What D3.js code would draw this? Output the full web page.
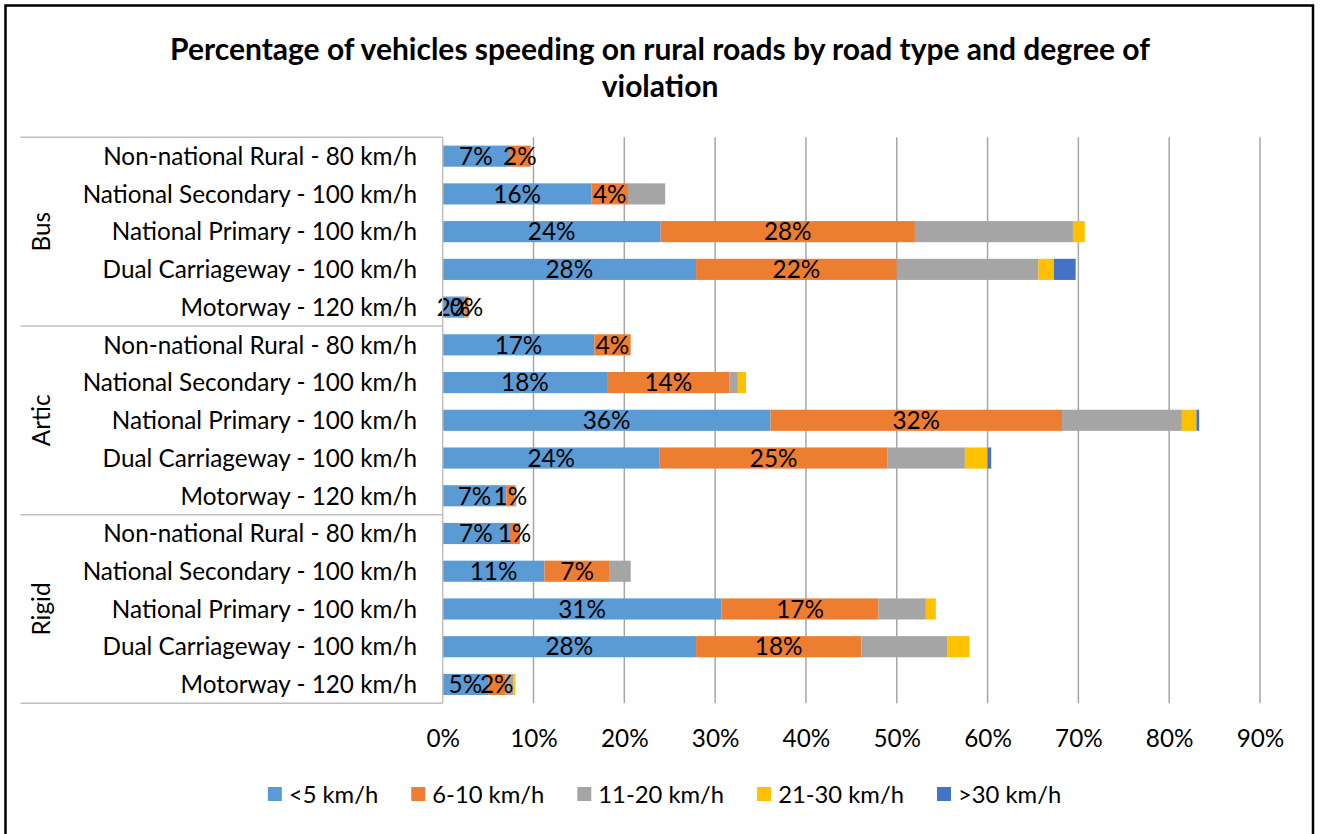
<!DOCTYPE html>
<html>
<head>
<meta charset="utf-8">
<script src="https://cdn.jsdelivr.net/npm/d3@7"></script>
<style>
  body { margin: 0; background: #fff; }
  svg { display: block; font-family: Lato, "Open Sans", sans-serif; }
</style>
</head>
<body>
<svg id="chart"></svg>
<script>
// chart data (rows go Bus, Artic, Rigid; top to bottom)
const groups = ["Bus", "Artic", "Rigid"];
const roadTypes = [
    "Non-national Rural - 80 km/h",
    "National Secondary - 100 km/h",
    "National Primary - 100 km/h",
    "Dual Carriageway - 100 km/h",
    "Motorway - 120 km/h"
];
const seriesNames = ["<5 km/h", "6-10 km/h", "11-20 km/h", "21-30 km/h", ">30 km/h"];
const seriesColors = ["#5B9BD5", "#ED7D31", "#A5A5A5", "#FFC000", "#4472C4"];

// one value per row, 15 rows
const under5   = [7.3, 16.4, 24.0, 27.9, 2.4,   16.7, 18.1, 36.1, 23.9, 7.0,   7.3, 11.2, 30.7, 27.9, 5.0];
const kmh6to10 = [2.4, 4.0, 28.0, 22.1, 0.45,   4.0, 13.5, 32.1, 25.1, 0.9,   1.2, 7.2, 17.3, 18.2, 1.9];
const kmh11to20 = [0, 4.1, 17.4, 15.6, 0,       0, 0.9, 13.2, 8.5, 0.2,       0, 2.3, 5.2, 9.5, 0.9];
const kmh21to30 = [0, 0, 1.3, 1.7, 0,           0, 0.9, 1.6, 2.5, 0,          0, 0, 1.1, 2.4, 0.2];
const over30   = [0, 0, 0, 2.4, 0,              0, 0, 0.3, 0.4, 0,            0, 0, 0, 0, 0];

const xTicks = [0, 10, 20, 30, 40, 50, 60, 70, 80, 90];

const width = 1325;
const height = 834;
const plotTop = 137.3, plotBottom = 703.3;
const plotLeft = 442.7, plotRight = 1260;
const labelSize = '24.3px';

const svg = d3.select('#chart')
    .attr('width', width)
    .attr('height', height);

// frame
svg.append('rect')
    .attr('x', 5.5).attr('y', 5.5)
    .attr('width', 1307.5).attr('height', 900)
    .attr('fill', 'none')
    .attr('stroke', '#000')
    .attr('stroke-width', 2.5);

// title
const title = svg.append('text')
    .attr('text-anchor', 'middle')
    .style('font-weight', 'bold')
    .style('font-size', '30px')
    .attr('fill', '#000');
title.append('tspan').attr('x', 660).attr('y', 60)
    .text('Percentage of vehicles speeding on rural roads by road type and degree of');
title.append('tspan').attr('x', 660).attr('y', 97)
    .text('violation');

// rows
const rows = [];
groups.forEach((g, gi) => {
    roadTypes.forEach((r, ri) => {
        const i = gi * roadTypes.length + ri;
        rows.push({
            id: g + '|' + r, group: g, road: r,
            [seriesNames[0]]: under5[i],
            [seriesNames[1]]: kmh6to10[i],
            [seriesNames[2]]: kmh11to20[i],
            [seriesNames[3]]: kmh21to30[i],
            [seriesNames[4]]: over30[i]
        });
    });
});

const xScale = d3.scaleLinear()
    .domain([0, 90])
    .range([plotLeft, plotRight]);

const yScale = d3.scaleBand()
    .domain(rows.map(d => d.id))
    .range([plotTop, plotBottom])
    .paddingInner(0.44)
    .paddingOuter(0.22);

const color = d3.scaleOrdinal().domain(seriesNames).range(seriesColors);

// gridlines
svg.append('g')
    .selectAll('line')
    .data(xTicks.slice(1))
    .enter()
    .append('line')
    .attr('x1', d => xScale(d)).attr('x2', d => xScale(d))
    .attr('y1', plotTop).attr('y2', plotBottom)
    .attr('stroke', '#a6a6a6')
    .attr('stroke-width', 1.5);

// x axis labels (no axis line in the reference)
const xAxis = svg.append('g')
    .attr('transform', `translate(0,${plotBottom})`)
    .call(d3.axisBottom(xScale).tickValues(xTicks).tickFormat(d => d + '%').tickSize(0).tickPadding(26));
xAxis.select('.domain').remove();
xAxis.selectAll('text')
    .style('font-family', 'Lato, "Open Sans", sans-serif')
    .style('font-size', labelSize)
    .attr('fill', '#000');

// stacked bars
const stack = d3.stack().keys(seriesNames);
const layers = stack(rows);

const layerG = svg.append('g')
    .selectAll('g')
    .data(layers)
    .enter()
    .append('g')
    .attr('fill', d => color(d.key));

layerG.selectAll('rect')
    .data(d => d.filter(s => s[1] - s[0] > 0))
    .enter()
    .append('rect')
    .attr('x', d => xScale(d[0]))
    .attr('y', d => yScale(d.data.id))
    .attr('width', d => xScale(d[1]) - xScale(d[0]))
    .attr('height', yScale.bandwidth());

// data labels, only on the first two series
svg.append('g')
    .selectAll('g')
    .data(layers.slice(0, 2))
    .enter()
    .append('g')
    .selectAll('text')
    .data(d => d.filter(s => s[1] - s[0] > 0))
    .enter()
    .append('text')
    .attr('x', d => (xScale(d[0]) + xScale(d[1])) / 2)
    .attr('y', d => yScale(d.data.id) + yScale.bandwidth() / 2)
    .attr('dy', '0.36em')
    .attr('text-anchor', 'middle')
    .style('font-size', labelSize)
    .attr('fill', '#000')
    .text(d => Math.round(d[1] - d[0]) + '%');

// category axis: vertical line, group separators, labels
svg.append('line')
    .attr('x1', plotLeft).attr('x2', plotLeft)
    .attr('y1', plotTop).attr('y2', plotBottom)
    .attr('stroke', '#bfbfbf')
    .attr('stroke-width', 1.5);

const half = (yScale.step() - yScale.bandwidth()) / 2;
const groupEdges = [0, 5, 10].map(i => yScale(rows[i].id) - half).concat([plotBottom]);
svg.append('g')
    .selectAll('line')
    .data(groupEdges)
    .enter()
    .append('line')
    .attr('x1', 20.5).attr('x2', plotLeft)
    .attr('y1', d => d).attr('y2', d => d)
    .attr('stroke', '#bfbfbf')
    .attr('stroke-width', 1.5);

svg.append('g')
    .selectAll('text')
    .data(rows)
    .enter()
    .append('text')
    .attr('x', 417)
    .attr('y', d => yScale(d.id) + yScale.bandwidth() / 2)
    .attr('dy', '0.36em')
    .attr('text-anchor', 'end')
    .style('font-size', labelSize)
    .attr('fill', '#000')
    .text(d => d.road);

svg.append('g')
    .selectAll('text')
    .data(groups)
    .enter()
    .append('text')
    .attr('transform', (g, gi) => {
        const y0 = yScale(rows[gi * 5].id);
        const y1 = yScale(rows[gi * 5 + 4].id) + yScale.bandwidth();
        return `translate(41,${(y0 + y1) / 2}) rotate(-90)`;
    })
    .attr('dy', '0.36em')
    .attr('text-anchor', 'middle')
    .style('font-size', labelSize)
    .attr('fill', '#000')
    .text(d => d);

// legend
const legend = svg.append('g').attr('transform', 'translate(0,794)');
const items = legend.selectAll('g')
    .data(seriesNames)
    .enter()
    .append('g');
items.append('rect')
    .attr('y', -7)
    .attr('width', 14).attr('height', 14)
    .attr('fill', d => color(d));
items.append('text')
    .attr('x', 21)
    .attr('dy', '0.36em')
    .style('font-size', '23.8px')
    .attr('fill', '#000')
    .text(d => d);

const widths = [];
items.each(function () {
    widths.push(21 + this.querySelector('text').getComputedTextLength());
});
const gap = 33;
const total = d3.sum(widths) + gap * (widths.length - 1);
let cursor = 664.5 - total / 2;
items.attr('transform', (d, i) => {
    const x = cursor;
    cursor += widths[i] + gap;
    return `translate(${x},0)`;
});
</script>
</body>
</html>
